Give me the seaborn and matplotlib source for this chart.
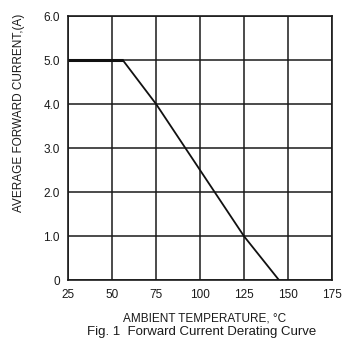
import matplotlib
matplotlib.use("Agg")
import matplotlib.pyplot as plt
import seaborn as sns
import pandas as pd

# Data
temp = [25, 56, 75, 125, 145]
current = [5.0, 5.0, 4.0, 1.0, 0.0]
x_ticks = [25, 50, 75, 100, 125, 150, 175]
y_ticks = [0, 1, 2, 3, 4, 5, 6]
y_tick_labels = ["0", "1.0", "2.0", "3.0", "4.0", "5.0", "6.0"]

sns.set_theme(style="white")
plt.rcParams['font.family'] = ['Liberation Sans', 'DejaVu Sans']

fig = plt.figure(figsize=(3.55, 3.5), dpi=100)
ax = fig.add_axes([0.1925, 0.199, 0.7425, 0.755])

df = pd.DataFrame({"temp": temp, "current": current})
flat = df.iloc[:2]
slope = df.iloc[1:]

sns.lineplot(data=flat, x="temp", y="current", ax=ax, color="#111111",
             linewidth=2.2, sort=False, solid_capstyle="butt")
sns.lineplot(data=slope, x="temp", y="current", ax=ax, color="#111111",
             linewidth=1.3, sort=False)

ax.set_xlim(25, 175)
ax.set_ylim(0, 6)
ax.set_xticks(x_ticks)
ax.set_xticklabels([str(t) for t in x_ticks])
ax.set_yticks(y_ticks)
ax.set_yticklabels(y_tick_labels)
ax.grid(True, color="#1a1a1a", linewidth=1.1)
ax.set_axisbelow(True)
for s in ax.spines.values():
    s.set_color("#1a1a1a")
    s.set_linewidth(1.2)
ax.tick_params(axis="both", length=0, pad=6, labelsize=8.5, colors="#1a1a1a")

ax.set_xlabel("AMBIENT TEMPERATURE, °C", fontsize=8.5, color="#1a1a1a")
ax.xaxis.set_label_coords(0.518, -0.1226)
ax.set_ylabel("AVERAGE FORWARD CURRENT,(A)", fontsize=8.5, color="#1a1a1a")
ax.yaxis.set_label_coords(-0.164, 0.633)

fig.text(0.568, 0.0686, "Fig. 1  Forward Current Derating Curve",
         ha="center", va="top", fontsize=9.5, color="#1a1a1a")

fig.savefig("out.png", dpi=100, facecolor="white")
